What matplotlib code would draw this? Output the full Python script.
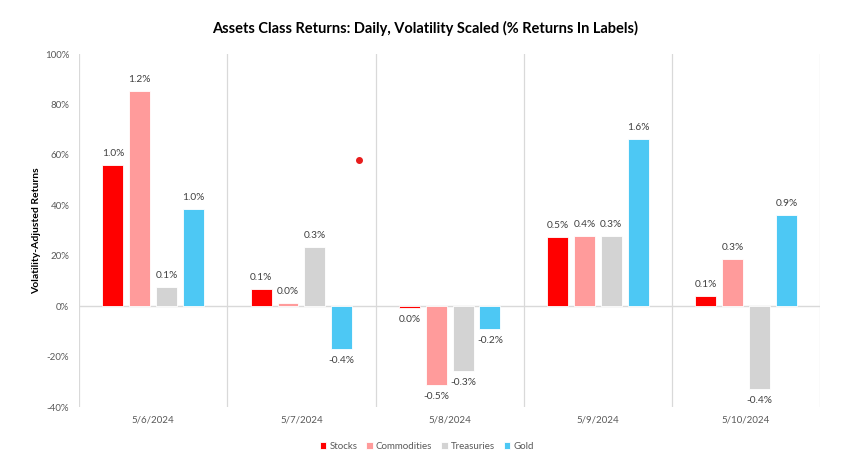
import numpy as np
import matplotlib
matplotlib.use('Agg')
import matplotlib.pyplot as plt
from matplotlib.ticker import FuncFormatter

plt.rcParams['font.family'] = ['Lato', 'DejaVu Sans']

# Data
dates = ['5/6/2024', '5/7/2024', '5/8/2024', '5/9/2024', '5/10/2024']
series = ['Stocks', 'Commodities', 'Treasuries', 'Gold']
colors = ['#FF0000', '#FF9B9B', '#D3D3D3', '#4DC8F4']

# volatility-adjusted returns (%)
stocks = [56, 7, -0.6, 27.3, 4.2]
commodities = [85.3, 1.1, -31.3, 27.9, 18.9]
treasuries = [7.7, 23.5, -25.7, 27.8, -33]
gold = [38.5, -17, -9.1, 66.3, 36]

# raw daily returns shown in labels
stocks_lbl = ['1.0%', '0.1%', '0.0%', '0.5%', '0.1%']
commodities_lbl = ['1.2%', '0.0%', '-0.5%', '0.4%', '0.3%']
treasuries_lbl = ['0.1%', '0.3%', '-0.3%', '0.3%', '-0.4%']
gold_lbl = ['1.0%', '-0.4%', '-0.2%', '1.6%', '0.9%']

# stray point in the original
dot_x = 1.39
dot_y = 57.9

values = [stocks, commodities, treasuries, gold]
labels = [stocks_lbl, commodities_lbl, treasuries_lbl, gold_lbl]

fig = plt.figure(figsize=(8.5, 4.68), dpi=100)
ax = fig.add_axes([0.093, 0.1303, 0.872, 0.7543])

x = np.arange(len(dates))
width = 0.141
pitch = 0.181
label_color = '#404040'

for i, (name, vals, lbls, col) in enumerate(zip(series, values, labels, colors)):
    pos = x + (i - 1.5) * pitch
    bars = ax.bar(pos, vals, width, color=col, label=name, edgecolor='white',
                  linewidth=0.6, zorder=3)
    for bar, v, t in zip(bars, vals, lbls):
        off = 5 if v >= 0 else -5
        va = 'bottom' if v >= 0 else 'top'
        ax.annotate(t, (bar.get_x() + bar.get_width() / 2, v),
                    xytext=(0, off), textcoords='offset points',
                    ha='center', va=va, fontsize=7.3, color=label_color)

ax.scatter([dot_x], [dot_y], s=16, color='#E81C1C', zorder=4)

ax.set_xlim(-0.5, len(dates) - 0.5)
ax.set_ylim(-40, 100)
ax.set_yticks(np.arange(-40, 101, 20))
ax.yaxis.set_major_formatter(FuncFormatter(lambda v, p: f'{v:.0f}%'))
ax.set_xticks(x)
ax.set_xticklabels(dates)

# vertical separators between categories
for b in np.arange(-0.5, len(dates), 1.0):
    ax.axvline(b, color='#D9D9D9', linewidth=0.9, zorder=1)
ax.axhline(0, color='#D9D9D9', linewidth=1.0, zorder=2)

for s in ax.spines.values():
    s.set_visible(False)
ax.tick_params(axis='both', length=0, labelsize=7, colors='#595959', pad=6)
ax.tick_params(axis='y', pad=7)

ax.set_ylabel('Volatility-Adjusted Returns', fontsize=7.5, fontweight='bold',
              color='black', labelpad=3)
fig.suptitle('Assets Class Returns: Daily, Volatility Scaled (% Returns In Labels)',
             fontsize=10.5, fontweight='bold', x=0.5, y=0.955)

ax.legend(loc='upper center', bbox_to_anchor=(0.469, -0.075), ncol=4, frameon=False,
          fontsize=7, handlelength=0.7, handleheight=0.7, handletextpad=0.3,
          columnspacing=0.9, labelcolor='#595959')

fig.savefig('out.png', dpi=100)
